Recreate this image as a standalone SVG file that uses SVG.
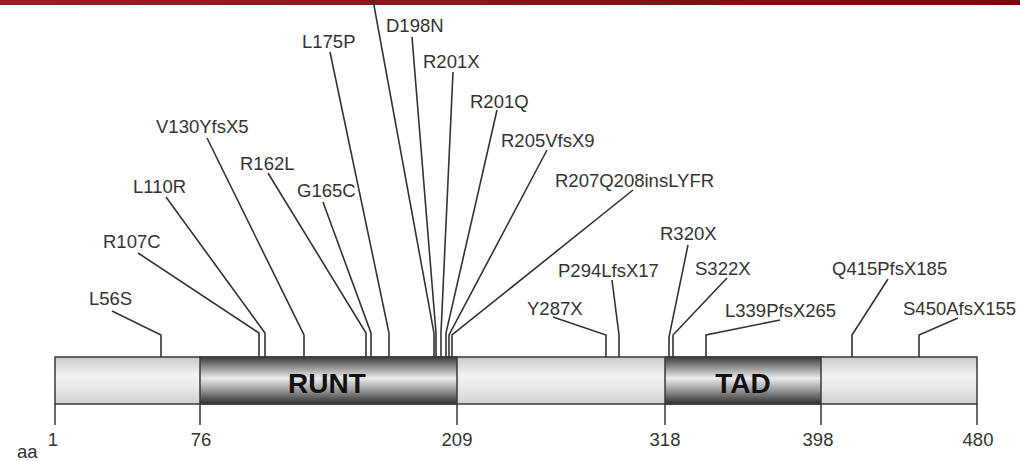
<svg xmlns="http://www.w3.org/2000/svg" width="1020" height="461" viewBox="0 0 1020 461">
<defs>
<linearGradient id="topbar" x1="0" y1="0" x2="1" y2="0">
<stop offset="0" stop-color="#9b1d1f"/>
<stop offset="1" stop-color="#6c0f10"/>
</linearGradient>
<linearGradient id="light" x1="0" y1="0" x2="0" y2="1">
<stop offset="0" stop-color="#c9c9c9"/>
<stop offset="0.4" stop-color="#f4f4f4"/>
<stop offset="0.7" stop-color="#e6e6e6"/>
<stop offset="1" stop-color="#cfcfcf"/>
</linearGradient>
<linearGradient id="dark" x1="0" y1="0" x2="0" y2="1">
<stop offset="0" stop-color="#3a3a3a"/>
<stop offset="0.45" stop-color="#ececec"/>
<stop offset="0.75" stop-color="#8a8a8a"/>
<stop offset="1" stop-color="#2e2e2e"/>
</linearGradient>
<style>
.lbl{font-family:"Liberation Sans",Arial,sans-serif;font-size:18.5px;fill:#333}
.num{font-family:"Liberation Sans",Arial,sans-serif;font-size:18.5px;fill:#333;text-anchor:middle}
.dom{font-family:"Liberation Sans",Arial,sans-serif;font-size:28px;font-weight:bold;fill:#111;text-anchor:middle}
.c{fill:none;stroke:#333;stroke-width:1.6}
.bar{stroke:#3a3a3a;stroke-width:1.5}
.tick{stroke:#333;stroke-width:1.5}
</style>
</defs>
<rect x="0" y="0" width="1020" height="5" fill="url(#topbar)"/>
<g id="protein">
<rect class="bar" x="55" y="357" width="922" height="47" fill="url(#light)"/>
<g id="runt">
<rect class="bar" x="200" y="357" width="257" height="47" fill="url(#dark)"/>
<text class="dom" x="327" y="393">RUNT</text>
</g>
<g id="tad">
<rect class="bar" x="665" y="357" width="156" height="47" fill="url(#dark)"/>
<text class="dom" x="743" y="393">TAD</text>
</g>
</g>
<g id="axis">
<line class="tick" x1="55" y1="404" x2="55" y2="425"/>
<line class="tick" x1="200" y1="404" x2="200" y2="425"/>
<line class="tick" x1="457" y1="404" x2="457" y2="425"/>
<line class="tick" x1="665" y1="404" x2="665" y2="425"/>
<line class="tick" x1="821" y1="404" x2="821" y2="425"/>
<line class="tick" x1="977" y1="404" x2="977" y2="425"/>
<text class="num" x="53" y="446">1</text>
<text class="num" x="201" y="446">76</text>
<text class="num" x="457" y="446">209</text>
<text class="num" x="665" y="446">318</text>
<text class="num" x="818" y="446">398</text>
<text class="num" x="978" y="446">480</text>
<text class="lbl" x="17" y="458">aa</text>
</g>
<g id="connectors">
<path class="c" d="M112,311 L161,335 L161,357"/>
<path class="c" d="M138,253 L259,333 L259,357"/>
<path class="c" d="M166,197 L265,333 L265,357"/>
<path class="c" d="M207,138 L304,335 L304,357"/>
<path class="c" d="M268,173 L366,333 L366,357"/>
<path class="c" d="M323,202 L371,333 L371,357"/>
<path class="c" d="M330,52 L389,333 L389,357"/>
<path class="c" d="M373,0 L434,333 L434,357"/>
<path class="c" d="M412,37 L436,333 L436,357"/>
<path class="c" d="M453,72 L441,333 L441,357"/>
<path class="c" d="M497,110 L446,333 L446,357"/>
<path class="c" d="M547,150 L449,335 L449,357"/>
<path class="c" d="M633,190 L452,335 L452,357"/>
<path class="c" d="M553,317 L606,335 L606,357"/>
<path class="c" d="M612,280 L619,335 L619,357"/>
<path class="c" d="M688,245 L669,337 L669,357"/>
<path class="c" d="M727,278 L673,335 L673,357"/>
<path class="c" d="M780,320 L706,335 L706,357"/>
<path class="c" d="M888,279 L852,335 L852,357"/>
<path class="c" d="M958,318 L919,335 L919,357"/>
</g>
<g id="L56S"><text class="lbl" x="89" y="305">L56S</text></g>
<g id="R107C"><text class="lbl" x="103" y="248">R107C</text></g>
<g id="L110R"><text class="lbl" x="133" y="193">L110R</text></g>
<g id="V130YfsX5"><text class="lbl" x="156" y="133">V130YfsX5</text></g>
<g id="R162L"><text class="lbl" x="240" y="170">R162L</text></g>
<g id="G165C"><text class="lbl" x="297" y="197">G165C</text></g>
<g id="L175P"><text class="lbl" x="302" y="48">L175P</text></g>
<g id="D198N"><text class="lbl" x="386" y="32">D198N</text></g>
<g id="R201X"><text class="lbl" x="423" y="68">R201X</text></g>
<g id="R201Q"><text class="lbl" x="470" y="108">R201Q</text></g>
<g id="R205VfsX9"><text class="lbl" x="501" y="147">R205VfsX9</text></g>
<g id="R207Q208insLYFR"><text class="lbl" x="555" y="187">R207Q208insLYFR</text></g>
<g id="Y287X"><text class="lbl" x="527" y="315">Y287X</text></g>
<g id="P294LfsX17"><text class="lbl" x="558" y="277">P294LfsX17</text></g>
<g id="R320X"><text class="lbl" x="660" y="240">R320X</text></g>
<g id="S322X"><text class="lbl" x="695" y="275">S322X</text></g>
<g id="L339PfsX265"><text class="lbl" x="725" y="317">L339PfsX265</text></g>
<g id="Q415PfsX185"><text class="lbl" x="832" y="275">Q415PfsX185</text></g>
<g id="S450AfsX155"><text class="lbl" x="903" y="315">S450AfsX155</text></g>
</svg>
